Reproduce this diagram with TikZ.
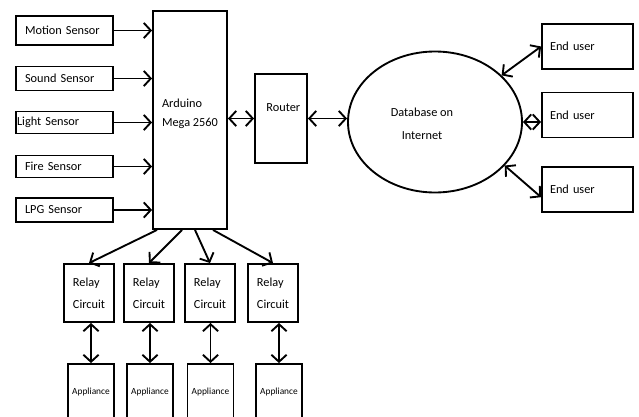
\documentclass[tikz,border=0pt]{standalone}
\usepackage{fontspec}
\setmainfont{Carlito}
\usetikzlibrary{arrows.meta,shapes.geometric}
\tikzset{
  box/.style={draw, line width=1.6pt, inner sep=0pt},
  sensor/.style={box, minimum width=2.91cm, text width=2.38cm, align=left},
  enduser/.style={box, minimum width=2.73cm, minimum height=1.35cm, text width=2.25cm, align=left},
  relay/.style={box, minimum width=1.5cm, minimum height=1.74cm, align=left},
  appliance/.style={box, minimum width=1.38cm, minimum height=1.68cm, font=\fontsize{8}{9}\selectfont},
  link/.style={line width=1.6pt, >={Straight Barb[length=6pt,width=13pt]}}
}
\begin{document}
\begin{tikzpicture}[x=0.03cm, y=-0.03cm, font=\fontsize{10.5}{19}\selectfont]
\useasboundingbox (0,0) rectangle (639,416);
\clip (0,0) rectangle (639,416);
\fill[white] (0,0) rectangle (639,416);
\node[sensor, minimum height=0.87cm] (motion) at (64.7,30.5) {Motion Sensor};
\node[sensor, minimum height=0.72cm] (sound) at (64.7,78.5) {Sound Sensor};
\node[sensor, minimum height=0.66cm, text width=2.86cm] (light) at (64.7,122.5) {Light Sensor};
\node[sensor, minimum height=0.66cm] (fire) at (64.7,166.5) {Fire Sensor};
\node[sensor, minimum height=0.72cm] (lpg) at (64.7,210) {LPG Sensor};
\node[box, minimum width=2.22cm, minimum height=6.54cm,
  label={[align=left, yshift=0.18cm]center:Arduino\\[-3pt]Mega 2560}] (ard) at (190,120) {};
\node[box, minimum width=1.56cm, minimum height=2.67cm,
  label={[xshift=0.07cm, yshift=0.32cm]center:Router}] (router) at (281,118.5) {};
\node[box, ellipse, minimum width=5.22cm, minimum height=4.23cm,
  label={[align=center, xshift=-0.39cm, yshift=-0.05cm]center:Database on\\Internet}] (db) at (435,122) {};
\node[enduser] (eu1) at (587.5,46.5) {End user};
\node[enduser] (eu2) at (587.5,115) {End user};
\node[enduser] (eu3) at (587.5,189.5) {End user};
\foreach \i/\x in {1/89,2/149,3/210,4/273}
  \node[relay] (r\i) at (\x,293) {Relay\\Circuit};
\foreach \i/\x in {1/91,2/150,3/210.5,4/279}
  \node[appliance] (a\i) at (\x,392) {Appliance};
\foreach \s in {motion,sound,light,fire,lpg}
  \draw[link,->] (\s.east) -- (\s.east -| ard.west);
\draw[link,<->] (router.west -| ard.east) -- (router.west);
\draw[link,<->] (router.east) -- (router.east -| db.west);
\draw[link,<->] (db.35) -- (eu1.west);
\draw[link,<->] (db.east) -- (db.east -| eu2.west);
\draw[link,<->] (db.-32) -- ([yshift=-0.23cm]eu3.west);
\draw[link,->] ([xshift=-0.99cm]ard.south) -- (r1.north);
\draw[link,->] ([xshift=-0.24cm]ard.south) -- (r2.north);
\draw[link,->] ([xshift=0.15cm]ard.south) -- (r3.north);
\draw[link,->] ([xshift=0.69cm]ard.south) -- (r4.north);
\foreach \i in {1,...,4}
  \draw[link,<->] (a\i.north |- r\i.south) -- (a\i.north);
\end{tikzpicture}
\end{document}
